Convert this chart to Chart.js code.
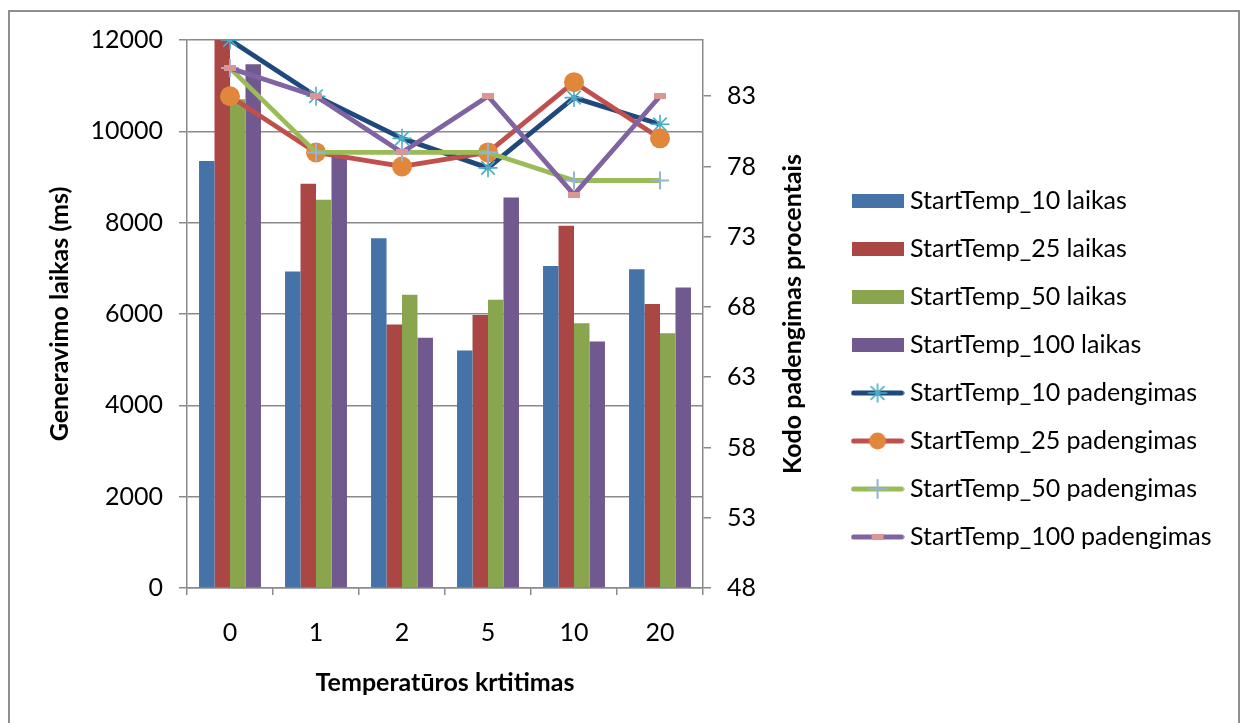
<!DOCTYPE html>
<html>
<head>
<meta charset="utf-8">
<script src="https://cdn.jsdelivr.net/npm/chart.js@4.4.1/dist/chart.umd.min.js"></script>
<style>
  html, body { margin: 0; padding: 0; background: #fff; overflow: hidden; }
  #frame { position: absolute; left: 8px; top: 10px; width: 1228px; height: 800px; border: 2px solid #8e8e8e; }
  #c { position: absolute; left: 0; top: 0; }
</style>
</head>
<body>
<div id="frame"></div>
<canvas id="c" width="1241" height="723"></canvas>
<script>
// Categories: temperature drop step
const categories = ['0', '1', '2', '5', '10', '20'];

// Generation time (ms), left axis
const laikas10  = [9350, 6930, 7660, 5200, 7050, 6980];
const laikas25  = [12000, 8850, 5770, 5980, 7930, 6220];
const laikas50  = [10700, 8500, 6420, 6310, 5800, 5580];
const laikas100 = [11470, 9450, 5480, 8550, 5400, 6580];

// Code coverage (%), right axis
const padengimas10  = [87, 83, 80, 77.9, 82.9, 81];
const padengimas25  = [83, 79, 78, 79, 84, 80];
const padengimas50  = [85, 79, 79, 79, 77, 77];
const padengimas100 = [85, 83, 79, 83, 76, 83];

// Tick labels
const leftTicks  = [0, 2000, 4000, 6000, 8000, 10000, 12000];
const rightTicks = [48, 53, 58, 63, 68, 73, 78, 83];

const FONT = 'Lato, "Open Sans", sans-serif';
const FS = 25;
const GRID = '#8a8a8a';
const tickFont = { family: FONT, size: FS };
const titleFont = { family: FONT, size: FS, weight: 'bold' };

const barColors  = ['#4572a7', '#aa4643', '#89a54e', '#71588f'];
const lineColors = ['#1f497d', '#c0504d', '#9bbb59', '#8064a2'];

// Legend geometry
const LEGEND_PAD = 23;
const LEGEND_ICON_W = 40;
const LEGEND_LEFT = 834.5;

function makeCanvas(w, h, draw) {
  const c = document.createElement('canvas');
  c.width = w; c.height = h;
  draw(c.getContext('2d'), w, h);
  return c;
}

// Small pink dash used as the marker of the last coverage series
const dashMarker = makeCanvas(12, 6, (g, w, h) => { g.fillStyle = '#d99694'; g.fillRect(0, 0, w, h); });

function drawStar(g, x, y, r, color) {
  g.strokeStyle = color; g.lineWidth = 1.6;
  g.beginPath();
  for (let k = 0; k < 4; k++) {
    const a = k * Math.PI / 4;
    g.moveTo(x - r * Math.cos(a), y - r * Math.sin(a));
    g.lineTo(x + r * Math.cos(a), y + r * Math.sin(a));
  }
  g.stroke();
}

const barIcon = color => makeCanvas(52, 22, (g) => { g.fillStyle = color; g.fillRect(0, 4, 52, 14); });
const lineIcon = (color, marker) => makeCanvas(54, 22, (g, w, h) => {
  g.strokeStyle = color; g.lineWidth = 5; g.lineCap = 'round';
  g.beginPath(); g.moveTo(3, h / 2); g.lineTo(w - 3, h / 2); g.stroke();
  marker(g, w / 2, h / 2);
});

const legendIcons = [
  barIcon(barColors[0]), barIcon(barColors[1]), barIcon(barColors[2]), barIcon(barColors[3]),
  lineIcon(lineColors[0], (g, x, y) => drawStar(g, x, y, 9, '#4bacc6')),
  lineIcon(lineColors[1], (g, x, y) => { g.fillStyle = '#e0873c'; g.beginPath(); g.arc(x, y, 8.5, 0, Math.PI * 2); g.fill(); }),
  lineIcon(lineColors[2], (g, x, y) => { g.strokeStyle = '#95b3d7'; g.lineWidth = 2; g.beginPath(); g.moveTo(x, y - 9); g.lineTo(x, y + 9); g.moveTo(x - 9, y); g.lineTo(x + 9, y); g.stroke(); }),
  lineIcon(lineColors[3], (g, x, y) => g.drawImage(dashMarker, x - 6, y - 3))
];

function barSet(label, data, i) {
  return {
    type: 'bar', label, data, yAxisID: 'y', order: 5 + i,
    backgroundColor: barColors[i], borderWidth: 0,
    categoryPercentage: 0.72, barPercentage: 1.0
  };
}
function lineSet(label, data, i, marker) {
  return Object.assign({
    type: 'line', label, data, yAxisID: 'y1', order: 4 - i,
    borderColor: lineColors[i], borderWidth: 4.8, tension: 0,
    borderJoinStyle: 'round', fill: false
  }, marker);
}

// Right-hand axis title, read bottom to top like the left one
const rightAxisTitle = {
  id: 'rightAxisTitle',
  afterDraw(chart) {
    const s = chart.scales.y1;
    const g = chart.ctx;
    g.save();
    g.translate(s.left + 90, (s.top + s.bottom) / 2);
    g.rotate(-Math.PI / 2);
    g.font = 'bold ' + FS + 'px ' + FONT;
    g.fillStyle = '#000';
    g.textAlign = 'center';
    g.textBaseline = 'middle';
    g.fillText('Kodo padengimas procentais', 0, 0);
    g.restore();
  }
};

function build() {
  const datasets = [
    barSet('StartTemp_10 laikas', laikas10, 0),
    barSet('StartTemp_25 laikas', laikas25, 1),
    barSet('StartTemp_50 laikas', laikas50, 2),
    barSet('StartTemp_100 laikas', laikas100, 3),
    lineSet('StartTemp_10 padengimas', padengimas10, 0,
      { pointStyle: 'star', pointRadius: 9.5, pointBorderColor: '#4bacc6', pointBackgroundColor: '#4bacc6', pointBorderWidth: 1.6 }),
    lineSet('StartTemp_25 padengimas', padengimas25, 1,
      { pointStyle: 'circle', pointRadius: 10, pointBorderWidth: 0, pointBackgroundColor: '#e0873c', pointBorderColor: '#e0873c' }),
    lineSet('StartTemp_50 padengimas', padengimas50, 2,
      { pointStyle: 'cross', pointRadius: 9, pointBorderWidth: 2, pointBorderColor: '#95b3d7' }),
    lineSet('StartTemp_100 padengimas', padengimas100, 3,
      { pointStyle: dashMarker, pointRadius: 6 })
  ];

  // Widest legend label decides how much room the legend takes on the right
  const m = document.createElement('canvas').getContext('2d');
  m.font = FS + 'px ' + FONT;
  const textW = Math.max(...datasets.map(d => m.measureText(d.label).width));
  const legendW = Math.ceil(LEGEND_PAD + LEGEND_ICON_W + FS / 2 + textW + 10);
  const padRight = Math.max(0, 1241 - LEGEND_LEFT - legendW);

  new Chart(document.getElementById('c'), {
    type: 'bar',
    data: { labels: categories, datasets },
    options: {
      responsive: false,
      animation: false,
      events: [],
      layout: { padding: { left: 0, top: 40, right: padRight, bottom: 25 } },
      scales: {
        x: {
          offset: true,
          grid: { offset: true, drawOnChartArea: false, drawTicks: true, tickLength: 7, color: GRID, lineWidth: 1.5 },
          border: { color: GRID, width: 1.5 },
          ticks: { font: tickFont, color: '#000', padding: 23, maxRotation: 0 },
          title: { display: true, text: 'Temperatūros krtitimas', font: titleFont, color: '#000', padding: { top: 0, bottom: 0 } },
          afterFit: s => { s.height = 110; }
        },
        y: {
          position: 'left', min: 0, max: 12000,
          afterBuildTicks: s => { s.ticks = leftTicks.map(v => ({ value: v })); },
          grid: { color: GRID, lineWidth: 1.5, tickLength: 8 },
          border: { color: GRID, width: 1.5 },
          ticks: { font: tickFont, color: '#000', padding: 16, callback: v => String(v) },
          title: { display: true, text: 'Generavimo laikas (ms)', font: titleFont, color: '#000', padding: { top: 45, bottom: 0 } },
          afterFit: s => { s.width = 187; }
        },
        y1: {
          position: 'right', min: 48, max: 87,
          afterBuildTicks: s => { s.ticks = rightTicks.map(v => ({ value: v })); },
          grid: { drawOnChartArea: false, color: GRID, lineWidth: 1.5, tickLength: 8 },
          border: { color: GRID, width: 1.5 },
          ticks: { font: tickFont, color: '#000', padding: 16, callback: v => String(v) },
          afterFit: s => { s.width = LEGEND_LEFT - 703; }
        }
      },
      plugins: {
        tooltip: { enabled: false },
        legend: {
          position: 'right',
          maxWidth: legendW,
          labels: {
            usePointStyle: true,
            pointStyleWidth: LEGEND_ICON_W,
            padding: LEGEND_PAD,
            color: '#000',
            font: { family: FONT, size: FS },
            generateLabels: chart => chart.data.datasets.map((ds, i) => ({
              text: ds.label, pointStyle: legendIcons[i], datasetIndex: i,
              fillStyle: 'rgba(0,0,0,0)', strokeStyle: 'rgba(0,0,0,0)', lineWidth: 0, hidden: false
            }))
          }
        }
      }
    },
    plugins: [rightAxisTitle]
  });
}

Promise.all([
  document.fonts.load(FS + 'px Lato'),
  document.fonts.load('bold ' + FS + 'px Lato')
]).then(build, build);
</script>
</body>
</html>
